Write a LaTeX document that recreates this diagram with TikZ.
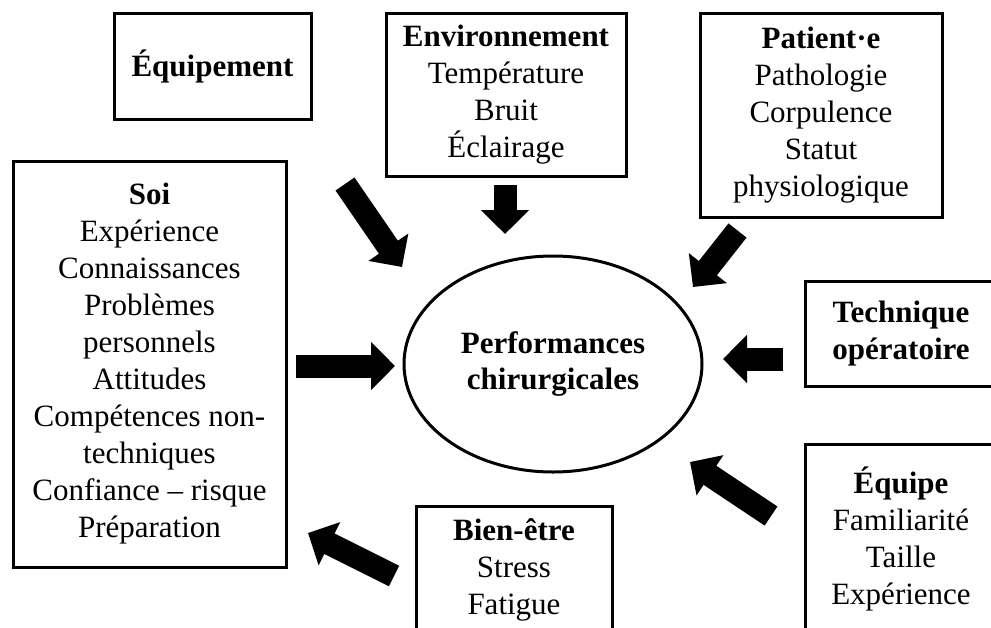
\documentclass[tikz,border=0pt]{standalone}
\usepackage{fontspec}
\setmainfont{Liberation Serif}
\usetikzlibrary{arrows.meta,shapes.geometric}
\begin{document}
\begin{tikzpicture}[x=1pt,y=-1pt,
  box/.style={draw, line width=3pt, rectangle, inner sep=0pt, align=center,
    font=\fontsize{31}{37}\selectfont},
  oval/.style={draw, line width=3pt, ellipse, inner sep=0pt, align=center,
    font=\fontsize{31}{36}\selectfont\bfseries},
  fatarrow/.style={line width=23pt, -{Triangle[length=24pt,width=47pt]}}
]
\useasboundingbox (0,0) rectangle (991,627);
\clip (0,0) rectangle (991,627);
\fill[white] (0,0) rectangle (991,627);

% central ellipse
\node[oval, minimum width=298pt, minimum height=216pt] (perf) at (553,364)
  {Performances\\chirurgicales};

% boxes
\node[box, minimum width=197pt, minimum height=106pt] (equip) at (212.5,66)
  {\textbf{Équipement}};
\node[box, minimum width=240pt, minimum height=163pt] (env) at (506,94.5)
  {\textbf{Environnement}\\Température\\Bruit\\Éclairage};
\node[box, minimum width=242pt, minimum height=204pt] (pat) at (821,115)
  {\textbf{Patient·e}\\Pathologie\\Corpulence\\Statut\\physiologique};
\node[box, minimum width=273pt, minimum height=406pt] (soi) at (149.5,364)
  {\textbf{Soi}\\Expérience\\Connaissances\\Problèmes\\personnels\\Attitudes\\Compétences non-\\techniques\\Confiance – risque\\Préparation};
\node[box, minimum width=192pt, minimum height=105pt] (tech) at (901,333.5)
  {\textbf{Technique}\\\textbf{opératoire}};
\node[box, minimum width=192pt, minimum height=189pt] (team) at (901,538.5)
  {\textbf{Équipe}\\Familiarité\\Taille\\Expérience};
\node[box, minimum width=196pt, minimum height=127pt] (bien) at (514,569.5)
  {\textbf{Bien-être}\\Stress\\Fatigue};

% arrow end points
\coordinate (a1s) at (345,184);   \coordinate (a1e) at (402,267);
\coordinate (a2s) at (505,185);   \coordinate (a2e) at (505,234);
\coordinate (a3s) at (737.5,230.5); \coordinate (a3e) at (693,287);
\coordinate (a4s) at (783,359);   \coordinate (a4e) at (723,359);
\coordinate (a5s) at (771,516);   \coordinate (a5e) at (690,462);
\coordinate (a6s) at (296,366);   \coordinate (a6e) at (395,366);
\coordinate (a7s) at (394,576);   \coordinate (a7e) at (308,533);

\draw[fatarrow] (a1s) -- (a1e);
\draw[fatarrow] (a2s) -- (a2e);
\draw[fatarrow] (a3s) -- (a3e);
\draw[fatarrow] (a4s) -- (a4e);
\draw[fatarrow] (a5s) -- (a5e);
\draw[fatarrow] (a6s) -- (a6e);
\draw[fatarrow] (a7s) -- (a7e);
\end{tikzpicture}
\end{document}
